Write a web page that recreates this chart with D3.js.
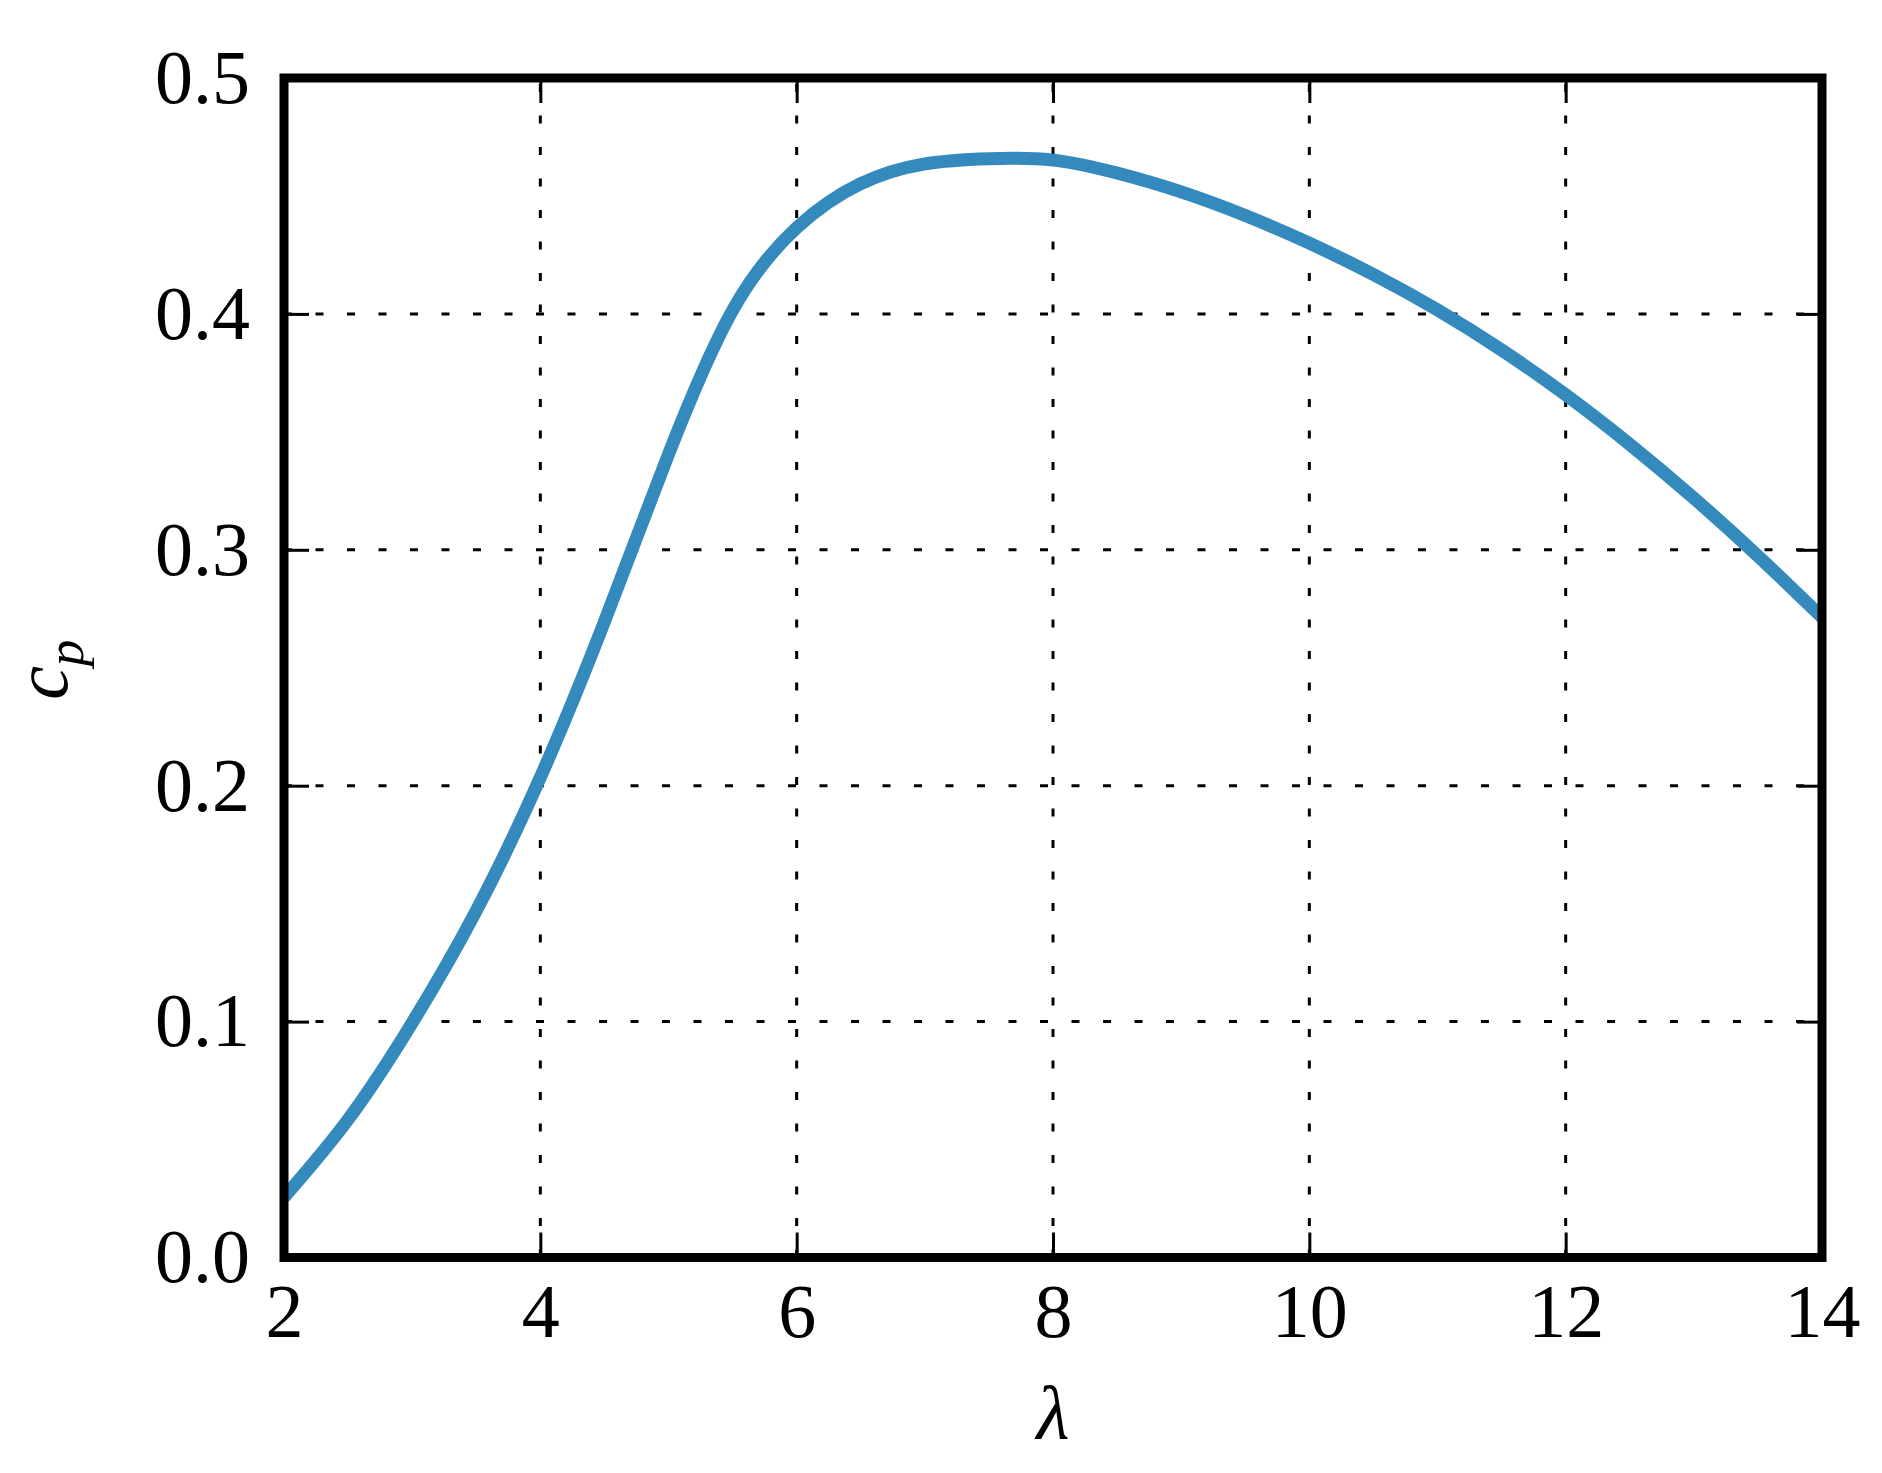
<!DOCTYPE html>
<html lang="en">
  <head>
    <meta charset="UTF-8" />
    <title>cp - lambda</title>
  </head>
  <style type="text/css">
    body {
      margin: 0;
      background: #ffffff;
    }
    text {
      font-family: 'Liberation Serif', 'Times New Roman', serif;
    }
  </style>
  <script src="https://d3js.org/d3.v7.min.js"></script>

  <body>
    <div class="d3Chart"></div>
  </body>
  <script type="text/javascript">
    // tip speed ratio and power coefficient
    const lambdaVals = [2.0, 2.5, 3.0, 3.5, 4.0, 4.5, 5.0, 5.5, 6.0, 6.5, 7.0, 7.5, 8.0, 8.5, 9.0, 9.5, 10.0, 10.5, 11.0, 11.5, 12.0, 12.5, 13.0, 13.5, 14.0]
    const cpVals = [0.0255, 0.0585, 0.0995, 0.147, 0.2035, 0.2695, 0.3405, 0.4015, 0.4365, 0.4552, 0.4636, 0.4658, 0.4652, 0.4597, 0.4517, 0.4417, 0.43, 0.4167, 0.4017, 0.3847, 0.3657, 0.3447, 0.3219, 0.2974, 0.2714]
    const xTicks = [2, 4, 6, 8, 10, 12, 14]
    const yTicks = [0.0, 0.1, 0.2, 0.3, 0.4, 0.5]

    // 画布
    const width = 1882
    const height = 1473
    const plotLeft = 284
    const plotRight = 1822
    const plotTop = 78
    const plotBottom = 1257.5
    const fontSize = 76

    const svg = d3
      .select('.d3Chart')
      .append('svg')
      .attr('width', width)
      .attr('height', height)
      .style('background-color', '#ffffff')

    const x = d3.scaleLinear().domain([2, 14]).range([plotLeft, plotRight])
    const y = d3.scaleLinear().domain([0, 0.5]).range([plotBottom, plotTop])

    // 网格
    const grid = svg
      .append('g')
      .attr('stroke', '#000000')
      .attr('stroke-width', 3)
      .attr('stroke-dasharray', '8,23.5')

    grid
      .selectAll('.vgrid')
      .data(xTicks)
      .join('line')
      .attr('class', 'vgrid')
      .attr('x1', (d) => x(d))
      .attr('x2', (d) => x(d))
      .attr('y1', plotBottom)
      .attr('y2', plotTop)

    grid
      .selectAll('.hgrid')
      .data(yTicks)
      .join('line')
      .attr('class', 'hgrid')
      .attr('x1', plotLeft)
      .attr('x2', plotRight)
      .attr('y1', (d) => y(d))
      .attr('y2', (d) => y(d))

    // 曲线
    svg
      .append('clipPath')
      .attr('id', 'clip')
      .append('rect')
      .attr('x', plotLeft)
      .attr('y', plotTop)
      .attr('width', plotRight - plotLeft)
      .attr('height', plotBottom - plotTop)

    const line = d3
      .line()
      .x((d, i) => x(lambdaVals[i]))
      .y((d) => y(d))
      .curve(d3.curveNatural)

    svg
      .append('path')
      .datum(cpVals)
      .attr('clip-path', 'url(#clip)')
      .attr('fill', 'none')
      .attr('stroke', '#348ABD')
      .attr('stroke-width', 13)
      .attr('d', line)

    // 坐标轴 (ticks inside, all four sides)
    const tickLen = 25

    const xAxis = svg
      .append('g')
      .attr('transform', `translate(0, ${plotBottom})`)
      .call(d3.axisBottom(x).tickValues(xTicks).tickSize(-tickLen).tickPadding(26).tickFormat(d3.format('d')))
    const yAxis = svg
      .append('g')
      .attr('transform', `translate(${plotLeft}, 0)`)
      .call(d3.axisLeft(y).tickValues(yTicks).tickSize(-tickLen).tickPadding(34).tickFormat(d3.format('.1f')))
    const xTop = svg
      .append('g')
      .attr('transform', `translate(0, ${plotTop})`)
      .call(d3.axisTop(x).tickValues(xTicks).tickSize(-tickLen).tickFormat(''))
    const yRight = svg
      .append('g')
      .attr('transform', `translate(${plotRight}, 0)`)
      .call(d3.axisRight(y).tickValues(yTicks).tickSize(-tickLen).tickFormat(''))

    ;[xAxis, yAxis, xTop, yRight].forEach((a) => {
      a.select('.domain').remove()
      a.selectAll('.tick line').attr('stroke', '#000000').attr('stroke-width', 3)
      a.selectAll('.tick text')
        .attr('fill', '#000000')
        .style('font-family', "'Liberation Serif', 'Times New Roman', serif")
        .style('font-size', fontSize + 'px')
    })
    yAxis.selectAll('.tick text').attr('dy', '0.32em')

    // 边框
    svg
      .append('rect')
      .attr('x', plotLeft)
      .attr('y', plotTop)
      .attr('width', plotRight - plotLeft)
      .attr('height', plotBottom - plotTop)
      .attr('fill', 'none')
      .attr('stroke', '#000000')
      .attr('stroke-width', 9)

    // 轴标题
    svg
      .append('text')
      .attr('x', (plotLeft + plotRight) / 2)
      .attr('y', 1439)
      .attr('text-anchor', 'middle')
      .style('font-size', fontSize + 'px')
      .style('font-style', 'italic')
      .text('λ')

    const ylab = svg
      .append('text')
      .attr('transform', `translate(67, ${(plotTop + plotBottom) / 2 + 2}) rotate(-90)`)
      .attr('text-anchor', 'middle')
      .style('font-size', fontSize + 'px')
      .style('font-style', 'italic')
    ylab.append('tspan').text('c')
    ylab.append('tspan').attr('dy', 16).style('font-size', '53px').text('p')
  </script>
</html>
